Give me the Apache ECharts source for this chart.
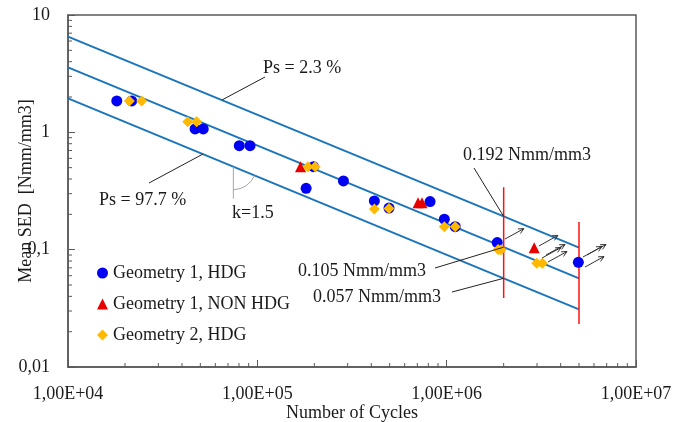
<!DOCTYPE html>
<html>
<head>
<meta charset="utf-8">
<script src="https://cdn.jsdelivr.net/npm/echarts@6/dist/echarts.min.js"></script>
<style>
html,body{margin:0;padding:0;background:#fff}
#main{width:673px;height:422px}
</style>
</head>
<body>
<div id="main"></div>
<script>
// test points [cycles, mean SED]
var geo1Hdg = [
  [1.81e4, 1.85], [2.17e4, 1.85], [4.69e4, 1.07], [5.18e4, 1.07],
  [8.03e4, 0.77], [9.15e4, 0.77], [1.81e5, 0.333], [1.98e5, 0.51],
  [2.85e5, 0.385], [4.15e5, 0.26], [4.96e5, 0.226], [8.17e5, 0.257],
  [9.72e5, 0.182], [1.11e6, 0.157], [1.85e6, 0.115], [4.96e6, 0.078]
];
var geo1NonHdg = [[1.69e5, 0.51], [7.06e5, 0.251], [7.41e5, 0.251], [2.9e6, 0.104]];
var geo2Hdg = [
  [2.11e4, 1.85], [2.45e4, 1.85], [4.29e4, 1.23], [4.78e4, 1.23],
  [1.85e5, 0.51], [2.02e5, 0.51], [4.15e5, 0.222], [4.96e5, 0.224],
  [9.72e5, 0.157], [1.11e6, 0.157], [1.87e6, 0.1005], [1.94e6, 0.1],
  [2.99e6, 0.0766], [3.2e6, 0.0766]
];
// run-outs (arrow start points)
var runouts = [
  [2.03e6, 0.123], [3.07e6, 0.1075], [3.19e6, 0.0849], [3.35e6, 0.0901],
  [3.43e6, 0.0785], [5.25e6, 0.0866], [5.51e6, 0.0901], [5.38e6, 0.0711]
];
// scatter band lines (Ps 2.3 %, 50 %, 97.7 %)
var bandCycles = [1e4, 2e6, 5e6];
var bandTop = [6.55, 0.192, 0.104];
var bandMid = [3.58, 0.105, 0.057];
var bandLow = [1.95, 0.057, 0.031];
// red limits at 2e6 and 5e6
var limit2e6 = [[2e6, 0.34], [2e6, 0.0387]];
var limit5e6 = [[5e6, 0.172], [5e6, 0.0232]];
// axis ticks
var xMinor = [2e4,3e4,4e4,5e4,6e4,7e4,8e4,9e4,2e5,3e5,4e5,5e5,6e5,7e5,8e5,9e5,2e6,3e6,4e6,5e6,6e6,7e6,8e6,9e6];
var yMinor = [0.02,0.03,0.04,0.05,0.06,0.07,0.08,0.09,0.2,0.3,0.4,0.5,0.6,0.7,0.8,0.9,2,3,4,5,6,7,8,9];
var yLabels = {'-2': '0,01', '-1': '0,1', '0': '1', '1': '10'};

var FONT = 'Liberation Serif';
var TXT = '#1a1a1a';
var AX = '#595959';

function zip(xs, ys){
  return xs.map(function(x, i){ return [x, ys[i]]; });
}

var chart = echarts.init(document.getElementById('main'));

function bandSeries(vals){
  return {
    type: 'line', data: zip(bandCycles, vals), symbol: 'none', silent: true,
    lineStyle: {color: '#1B75BC', width: 2}, z: 2
  };
}
function limitSeries(d){
  return {
    type: 'line', data: d, symbol: 'none', silent: true,
    lineStyle: {color: '#FF1010', width: 1.5}, z: 2
  };
}
function minorTicks(isX){
  return {
    type: 'custom', silent: true, clip: false, z: 1,
    data: isX ? xMinor.map(function(v){ return [v, 0.01]; })
              : yMinor.map(function(v){ return [1e4, v]; }),
    renderItem: function(params, api){
      var p = api.coord([api.value(0), api.value(1)]);
      var shape = isX ? {x1: p[0], y1: p[1], x2: p[0], y2: p[1] - 4}
                      : {x1: p[0], y1: p[1], x2: p[0] + 4, y2: p[1]};
      return {type: 'line', shape: shape, style: {stroke: AX, lineWidth: 1}};
    }
  };
}

chart.setOption({
  animation: false,
  grid: {left: 68, right: 37, top: 15, bottom: 55, outerBoundsMode: 'none', containLabel: false,
         show: true, borderColor: AX, borderWidth: 1.5},
  legend: {
    orient: 'vertical', left: 92, top: 258, itemWidth: 11, itemHeight: 11, itemGap: 11,
    textStyle: {fontFamily: FONT, fontSize: 18, color: TXT, lineHeight: 20},
    data: ['Geometry 1, HDG', 'Geometry 1, NON HDG', 'Geometry 2, HDG']
  },
  xAxis: {
    type: 'log', logBase: 10, min: 1e4, max: 1e7,
    name: 'Number of Cycles', nameLocation: 'middle', nameGap: 37, nameMoveOverlap: false,
    nameTextStyle: {fontFamily: FONT, fontSize: 18, color: TXT},
    axisLine: {lineStyle: {color: AX, width: 1.5}},
    axisTick: {inside: true, length: 7, lineStyle: {color: AX}},
    splitLine: {show: false},
    axisLabel: {
      fontFamily: FONT, fontSize: 18, color: TXT, margin: 18,
      formatter: function(v){
        var e = Math.round(Math.log(v) / Math.LN10);
        return '1,00E+' + (e < 10 ? '0' : '') + e;
      }
    }
  },
  yAxis: {
    type: 'log', logBase: 10, min: 0.01, max: 10,
    name: 'Mean SED  [Nmm/mm3]', nameLocation: 'middle', nameGap: 33, nameMoveOverlap: false,
    nameTextStyle: {fontFamily: FONT, fontSize: 18, color: TXT},
    axisLine: {lineStyle: {color: AX, width: 1.5}},
    axisTick: {inside: true, length: 7, lineStyle: {color: AX}},
    splitLine: {show: false},
    axisLabel: {
      fontFamily: FONT, fontSize: 18, color: TXT, margin: 18,
      formatter: function(v){
        return yLabels[String(Math.round(Math.log(v) / Math.LN10))];
      }
    }
  },
  series: [
    minorTicks(true), minorTicks(false),
    bandSeries(bandTop), bandSeries(bandMid), bandSeries(bandLow),
    limitSeries(limit2e6), limitSeries(limit5e6),
    {name: 'Geometry 1, HDG', type: 'scatter', data: geo1Hdg, symbol: 'circle', symbolSize: 11,
     itemStyle: {color: '#0000F2', opacity: 1}, z: 3},
    {name: 'Geometry 1, NON HDG', type: 'scatter', data: geo1NonHdg, symbol: 'triangle', symbolSize: 11,
     itemStyle: {color: '#E80000', opacity: 1}, z: 4},
    {name: 'Geometry 2, HDG', type: 'scatter', data: geo2Hdg, symbol: 'diamond', symbolSize: 11,
     itemStyle: {color: '#FFB900', opacity: 1}, z: 5},
    {
      type: 'custom', data: runouts, silent: true, clip: false, z: 6,
      renderItem: function(params, api){
        var p = api.coord([api.value(0), api.value(1)]);
        var dx = 19, dy = -10.5;
        var q = [p[0] + dx, p[1] + dy];
        var a = Math.atan2(dy, dx), h = 6, s = 0.45;
        var h1 = [q[0] - h * Math.cos(a - s), q[1] - h * Math.sin(a - s)];
        var h2 = [q[0] - h * Math.cos(a + s), q[1] - h * Math.sin(a + s)];
        return {type: 'group', children: [
          {type: 'line', shape: {x1: p[0], y1: p[1], x2: q[0], y2: q[1]}, style: {stroke: '#333', lineWidth: 1}},
          {type: 'polyline', shape: {points: [h1, q, h2]}, style: {stroke: '#333', fill: null, lineWidth: 1}}
        ]};
      }
    }
  ]
});

// annotations
function px(n, s){ return chart.convertToPixel({xAxisIndex: 0, yAxisIndex: 0}, [n, s]); }
function label(text, x, y){
  return {type: 'text', x: x, y: y, z: 10,
    style: {text: text, fontFamily: FONT, fontSize: 18, fill: TXT, verticalAlign: 'middle'}};
}
function leader(a, b){
  return {type: 'line', z: 10, shape: {x1: a[0], y1: a[1], x2: b[0], y2: b[1]},
    style: {stroke: '#222', lineWidth: 1}};
}
var topAnchor = px(6.5e4, 1.886);
var lowAnchor = px(5.16e4, 0.653);
var arcC = px(7.47e4, 0.51);
var lineAng = Math.atan2(px(5e6, 0.031)[1] - px(1e4, 1.95)[1], px(5e6, 0.031)[0] - px(1e4, 1.95)[0]);

chart.setOption({
  graphic: [
    label('Ps = 2.3 %', 263, 68),
    leader(topAnchor, [265, 77]),
    label('Ps = 97.7 %', 99, 200),
    leader(lowAnchor, [149, 183]),
    label('k=1.5', 232, 213),
    {type: 'line', z: 10, shape: {x1: arcC[0], y1: arcC[1], x2: arcC[0], y2: arcC[1] + 32},
     style: {stroke: '#A6A6A6', lineWidth: 1}},
    {type: 'arc', z: 10, shape: {cx: arcC[0], cy: arcC[1], r: 23, startAngle: lineAng, endAngle: Math.PI / 2, clockwise: true},
     style: {stroke: '#A6A6A6', fill: null, lineWidth: 1}},
    label('0.192 Nmm/mm3', 463, 155),
    leader([474, 168], px(2e6, 0.192)),
    label('0.105 Nmm/mm3', 298, 271),
    leader([435, 268], px(2e6, 0.105)),
    label('0.057 Nmm/mm3', 313, 297),
    leader([452, 292], px(2e6, 0.057))
  ]
});
</script>
</body>
</html>
